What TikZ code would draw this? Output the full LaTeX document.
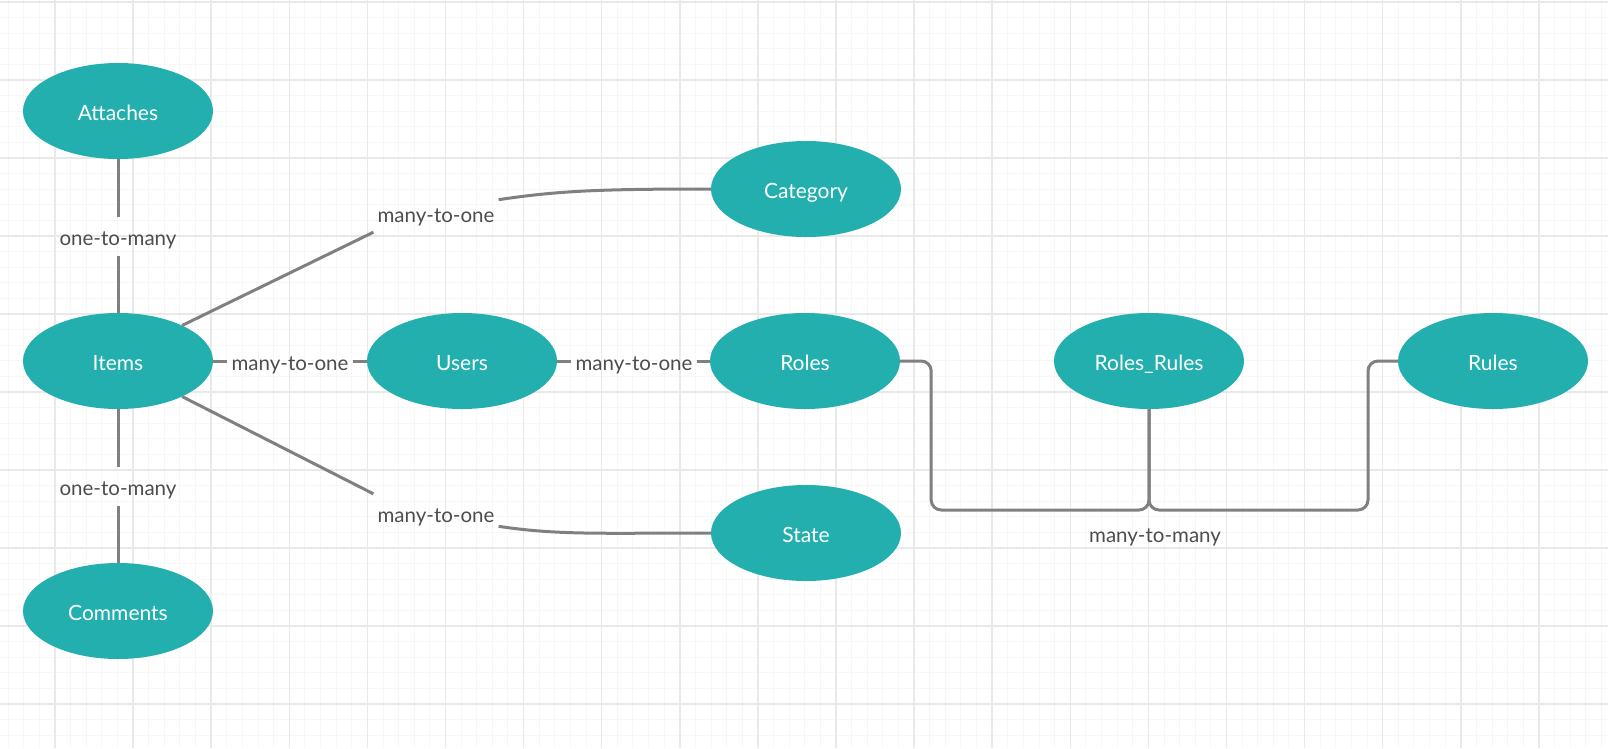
\documentclass[tikz,border=0pt]{standalone}
\usepackage{fontspec}
\setmainfont{Lato}
\usetikzlibrary{shapes.geometric,calc}
\definecolor{tealfill}{RGB}{35,175,174}
\definecolor{conn}{RGB}{128,128,128}
\definecolor{lbltext}{RGB}{77,77,77}
\definecolor{gridminor}{RGB}{247,247,247}
\definecolor{gridmajor}{RGB}{233,233,233}
\begin{document}
\begin{tikzpicture}[x=1pt,y=-1pt,
  entity/.style={ellipse, fill=tealfill, draw=none, minimum width=190pt, minimum height=96pt, inner sep=0pt, text=white, text height=19pt, text depth=0pt, font=\fontsize{21}{25}\selectfont},
  lbl/.style={inner xsep=4pt, inner ysep=10pt, text height=18pt, text depth=0pt, text=lbltext, font=\fontsize{20.5}{24}\selectfont},
  link/.style={draw=conn, line width=3pt},
  minorline/.style={draw=gridminor, line width=1pt},
  majorline/.style={draw=gridmajor, line width=1.5pt},
]
\useasboundingbox (0,0) rectangle (1608,748);
\fill[white] (0,0) rectangle (1608,748);
\foreach \i in {-3,...,100} \draw[minorline] ({55+15.62*\i},0) -- ++(0,748);
\foreach \j in {0,...,48} \draw[minorline] (0,{2+15.6*\j}) -- ++(1608,0);
\foreach \i in {0,...,19} \draw[majorline] ({55+78.1*\i},0) -- ++(0,748);
\foreach \j in {0,...,9} \draw[majorline] (0,{2+78*\j}) -- ++(1608,0);

\node[entity] (att) at (118,111) {Attaches};
\node[entity] (items) at (118,361) {Items};
\node[entity] (com) at (118,611) {Comments};
\node[entity] (users) at (462,361) {Users};
\node[entity] (roles) at (805,361) {Roles};
\node[entity] (cat) at (806,189) {Category};
\node[entity] (state) at (806,533) {State};
\node[entity] (rr) at (1149,361) {Roles\_Rules};
\node[entity] (rules) at (1493,361) {Rules};

\node[lbl] (l1) at (118,236.5) {one-to-many};
\node[lbl] (l2) at (118,486.5) {one-to-many};
\node[lbl] (l3) at (290,361) {many-to-one};
\node[lbl] (l4) at (634,361) {many-to-one};
\node[lbl] (l5) at (436,213) {many-to-one};
\node[lbl] (l6) at (436,513) {many-to-one};
\node[lbl] (l7) at (1155,533) {many-to-many};

\draw[link] (att.south) -- (l1.north);
\draw[link] (l1.south) -- (items.north);
\draw[link] (items.south) -- (l2.north);
\draw[link] (l2.south) -- (com.north);
\draw[link] (items.east) -- (l3.west);
\draw[link] (l3.east) -- (users.west);
\draw[link] (users.east) -- (l4.west);
\draw[link] (l4.east) -- (roles.west);
\draw[link] (items.29) -- (l5.south west);
\draw[link] (l5.12) .. controls +(60,-9) and +(-110,0) .. (cat.west);
\draw[link] (items.-29) -- (l6.north west);
\draw[link] (l6.-12) .. controls +(60,9) and +(-110,0) .. (state.west);

\coordinate (mm) at (1149,510);
\draw[link, rounded corners=10pt] (roles.east) -- ++(31,0) |- (mm) -- (rr.south);
\draw[link, rounded corners=10pt] (rr.south) -- (mm) -| (1368,361) -- (rules.west);
\end{tikzpicture}
\end{document}
